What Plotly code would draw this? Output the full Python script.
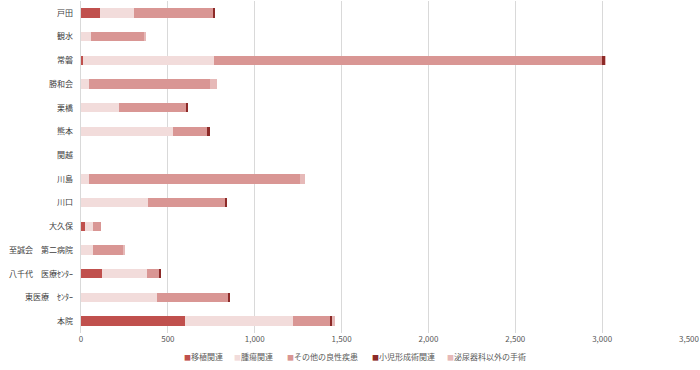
import plotly.graph_objects as go

categories = ["戸田", "観水", "常磐", "勝和会", "栗橋", "熊本", "関越", "川島", "川口", "大久保",
              "至誠会　第二病院", "八千代　医療ｾﾝﾀｰ", "東医療　ｾﾝﾀｰ", "本院"]
series_names = ["移植関連", "腫瘍関連", "その他の良性疾患", "小児形成術関連", "泌尿器科以外の手術"]
transplant = [110, 0, 12, 0, 0, 0, 0, 0, 0, 23, 0, 119, 0, 598]
tumor = [197, 56, 755, 46, 219, 527, 0, 48, 384, 48, 71, 259, 437, 624]
benign = [454, 305, 2235, 698, 389, 204, 0, 1214, 445, 46, 175, 75, 413, 213]
pediatric = [7, 0, 15, 0, 4, 9, 0, 0, 11, 0, 0, 7, 6, 11]
non_uro = [0, 15, 5, 39, 0, 0, 0, 25, 0, 0, 5, 0, 0, 17]
tick_vals = [0, 500, 1000, 1500, 2000, 2500, 3000, 3500]
tick_text = ["0", "500", "1,000", "1,500", "2,000", "2,500", "3,000", "3,500"]

colors = ["#C0504D", "#F2DCDB", "#D99694", "#8C2A28", "#E6B9B8"]
data = [transplant, tumor, benign, pediatric, non_uro]
legend_px = [182, 232, 285, 370, 445]

fig = go.Figure()
for name, vals, col in zip(series_names, data, colors):
    fig.add_trace(go.Bar(y=categories, x=vals, name=name, orientation="h",
                         marker=dict(color=col, line=dict(width=0))))

L, R = 81, 11
pw = 700 - L - R
for name, col, px in zip(series_names, colors, legend_px):
    fig.add_annotation(
        xref="paper", yref="paper", x=(px - L) / pw, y=-0.072,
        xanchor="left", yanchor="middle", showarrow=False,
        text=f"<span style='color:{col};font-size:7px'>■</span>{name}",
        font=dict(family="Noto Sans CJK JP", size=8, color="#595959"))

fig.update_layout(
    barmode="stack", bargap=0.6,
    width=700, height=370,
    margin=dict(l=L, r=R, t=1, b=37),
    plot_bgcolor="white", paper_bgcolor="white",
    font=dict(family="Noto Sans CJK JP", size=8, color="#595959"),
    xaxis=dict(range=[0, 3500], tickvals=tick_vals, ticktext=tick_text,
               showgrid=True, gridcolor="#D9D9D9", gridwidth=1, zeroline=False,
               showline=False, tickfont=dict(size=8, color="#595959"), ticks=""),
    yaxis=dict(autorange="reversed", showgrid=False, showline=True, linecolor="#D9D9D9",
               ticks="", tickfont=dict(size=8, color="#404040"), ticksuffix="   "),
    showlegend=False,
)
fig.write_html("out.html")
